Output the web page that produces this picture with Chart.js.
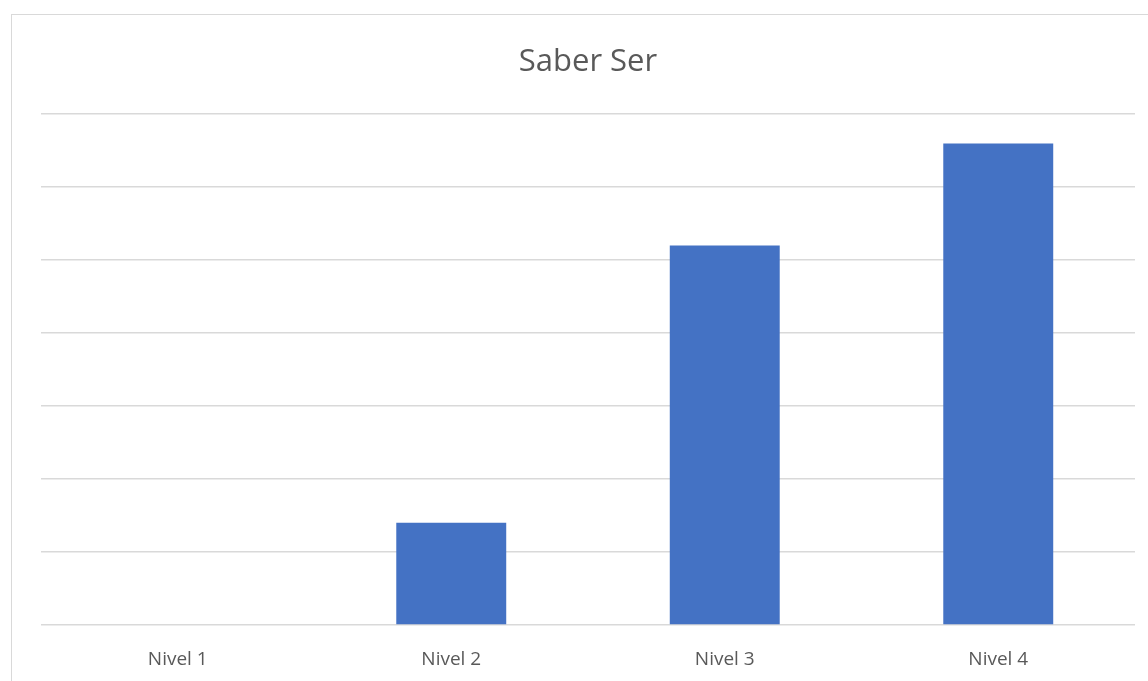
<!DOCTYPE html>
<html>
<head>
<meta charset="utf-8">
<script src="https://cdn.jsdelivr.net/npm/chart.js@4/dist/chart.umd.min.js"></script>
<style>
  html, body { margin: 0; padding: 0; background: #fff; overflow: hidden; }
  #wrap { position: relative; width: 1148px; height: 681px; overflow: hidden; }
  #frame { position: absolute; left: 11px; top: 14px; width: 1300px; height: 800px; border: 1.5px solid #d9d9d9; box-sizing: border-box; }
  #c { position: absolute; left: 0; top: 0; }
</style>
</head>
<body>
<div id="wrap">
  <div id="frame"></div>
  <canvas id="c" width="1148" height="720"></canvas>
</div>
<script>
const categories = ["Nivel 1", "Nivel 2", "Nivel 3", "Nivel 4"];
const values = [0, 7, 26, 33];
const yMax = 35;
const yStep = 5;
const titleText = "Saber Ser";

new Chart(document.getElementById('c'), {
  type: 'bar',
  data: {
    labels: categories,
    datasets: [{
      data: values,
      backgroundColor: '#4472C4',
      borderWidth: 0,
      categoryPercentage: 1.0,
      barPercentage: 0.402
    }]
  },
  options: {
    responsive: false,
    animation: false,
    layout: { padding: { left: 41, right: 13, top: 0, bottom: 0 } },
    plugins: {
      legend: { display: false },
      tooltip: { enabled: false },
      title: {
        display: true,
        text: titleText,
        color: '#595959',
        font: { family: 'Open Sans', size: 31, weight: 'normal' },
        padding: { top: 44, bottom: 33 }
      }
    },
    scales: {
      x: {
        grid: { display: false },
        border: { display: false },
        ticks: { color: '#595959', font: { family: 'Open Sans', size: 19 }, padding: 15 },
        afterFit: (axis) => { axis.height = 95; }
      },
      y: {
        min: 0, max: yMax,
        ticks: { display: false, stepSize: yStep },
        border: { display: false },
        grid: { color: '#d9d9d9', lineWidth: 1.5, drawTicks: false, tickLength: 0 }
      }
    }
  }
});
</script>
</body>
</html>
